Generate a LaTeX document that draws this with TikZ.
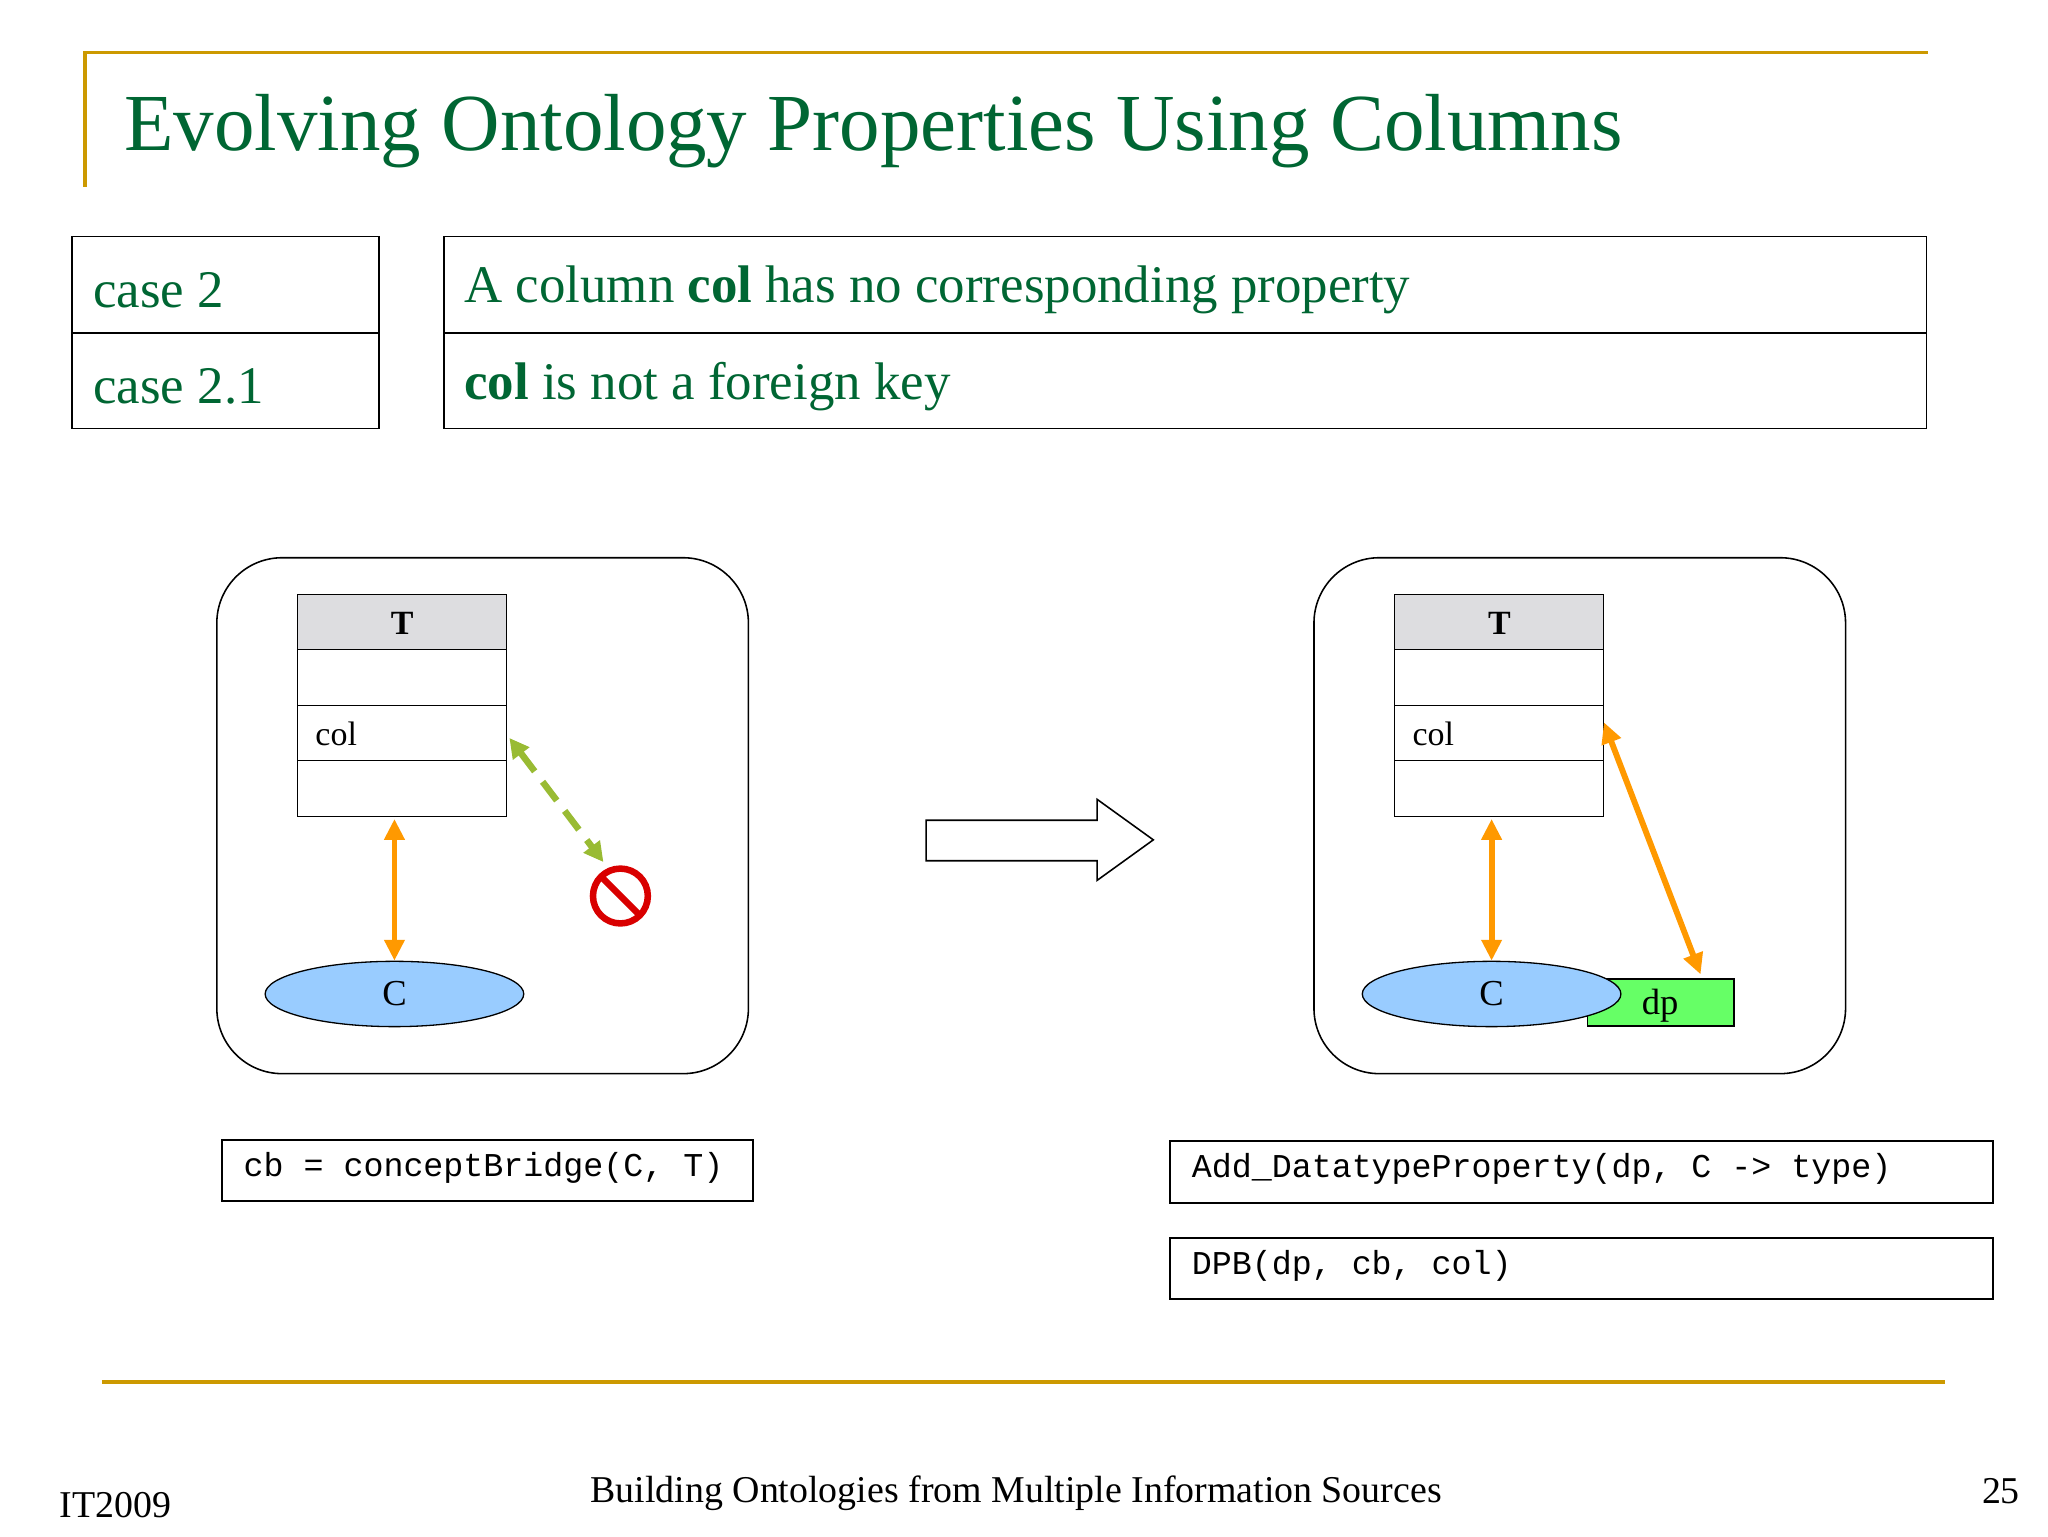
\documentclass[tikz,border=0pt]{standalone}
\usepackage{fontspec}
\setmainfont{Liberation Serif}
\setmonofont{Liberation Mono}
\usetikzlibrary{arrows.meta,shapes.geometric,calc}
\definecolor{ttl}{RGB}{0,102,51}
\definecolor{gold}{RGB}{204,153,0}
\definecolor{org}{RGB}{255,153,0}
\definecolor{lgr}{RGB}{153,187,51}
\definecolor{cblue}{RGB}{153,204,255}
\definecolor{dpg}{RGB}{102,255,102}
\definecolor{hdr}{RGB}{221,221,224}
\begin{document}
\begin{tikzpicture}[x=1pt,y=-1pt,
  gline/.style={gold,line width=2.5pt},
  casetxt/.style={font=\fontsize{40.5}{42}\selectfont,text=ttl,anchor=west},
  boxl/.style={draw,line width=1.2pt},
  panel/.style={draw,line width=1.2pt,rounded corners=50pt},
  cell/.style={draw,line width=0.8pt},
  oarrow/.style={org,line width=4.5pt,{Triangle[length=16pt,width=15pt]}-{Triangle[length=16pt,width=15pt]}},
  codebox/.style={draw,line width=1.5pt,minimum height=47pt,anchor=north west,inner sep=0pt},
  codetxt/.style={font=\ttfamily\fontsize{25.5}{27}\selectfont,anchor=west},
  foot/.style={font=\fontsize{29}{31}\selectfont}]
\useasboundingbox (0,0) rectangle (1568,1176);
\fill[white] (0,0) rectangle (1568,1176);
\draw[gline] (65,143) -- (65,40) -- (1476,40);
\draw[gline] (78,1058) -- (1489,1058);
\node[anchor=base west,text=ttl,font=\fontsize{62}{64}\selectfont,inner sep=0] (title) at (95,115) {Evolving Ontology Properties Using Columns};
% case boxes
\draw[boxl] (55,181) rectangle (290,328); \draw[boxl] (55,255) -- (290,255);
\draw[boxl] (340,181) rectangle (1475,328); \draw[boxl] (340,255) -- (1475,255);
\node[casetxt] (c2) at (68,222) {case 2};
\node[casetxt] (c21) at (68,296) {case 2.1};
\node[casetxt] (d1) at (352,222) {A column \textbf{col} has no corresponding property};
\node[casetxt] (d2) at (352,296) {\textbf{col} is not a foreign key};
% panels
\foreach \dx/\p in {0/L,840/R}{
  \begin{scope}[xshift=\dx]
  \draw[panel] (166,427) rectangle (573,822);
  \fill[hdr] (228,455) rectangle (388,497);
  \draw[cell] (228,455) rectangle (388,625);
  \draw[cell] (228,497)--(388,497) (228,540)--(388,540) (228,582)--(388,582);
  \node[font=\bfseries\fontsize{26}{28}\selectfont] (T\p) at (308,477) {T};
  \node[anchor=west,font=\fontsize{26}{28}\selectfont] (col\p) at (238,562) {col};
  \coordinate (tb\p) at (302,627);
  \end{scope}}
% left
\node[ellipse,draw,line width=1pt,fill=cblue,minimum width=198pt,minimum height=50pt,font=\fontsize{28}{30}\selectfont] (CL) at (302,761) {C};
\draw[oarrow] (tbL) -- (CL.north);
\coordinate (ns) at (475,686);
\coordinate (colLe) at (390,565);
\draw[lgr,line width=5pt,dash pattern=on 18pt off 10pt,{Triangle[length=15pt,width=15pt]}-{Triangle[length=15pt,width=15pt]}] (colLe) -- (462,660);
\fill[white] (ns) circle (22pt);
\draw[red!85!black,line width=5pt] (ns) circle (21pt);
\draw[red!85!black,line width=5pt] ($(ns)+(-14,-14)$) -- ($(ns)+(14,14)$);
% big arrow
\draw[line width=1.2pt,fill=white] (709,628) -- (840,628) -- (840,612) -- (883,643) -- (840,674) -- (840,659) -- (709,659) -- cycle;
% right
\node[draw,line width=1pt,fill=dpg,minimum width=112pt,minimum height=36pt,anchor=north west,inner sep=0] (dp) at (1215,749) {};
\node[ellipse,draw,line width=1pt,fill=cblue,minimum width=198pt,minimum height=50pt,font=\fontsize{28}{30}\selectfont] (CR) at (1142,761) {C};
\node[font=\fontsize{28}{30}\selectfont] (dpt) at (1271,770) {dp};
\draw[oarrow] (tbR) -- (CR.north);
\coordinate (colRe) at (1228,553);
\draw[oarrow] (colRe) -- (1302,746);
% code boxes
\node[codebox,minimum width=407pt] (b1) at (169,872) {};
\node[codetxt] at ([xshift=14pt,yshift=2pt]b1.west) {cb = conceptBridge(C, T)};
\node[codebox,minimum width=630pt] (b2) at (895,873) {};
\node[codetxt] at ([xshift=14pt,yshift=2pt]b2.west) {Add\_DatatypeProperty(dp, C -> type)};
\node[codebox,minimum width=630pt] (b3) at (895,947) {};
\node[codetxt] at ([xshift=14pt,yshift=2pt]b3.west) {DPB(dp, cb, col)};
% footer
\node[foot,anchor=west] (f1) at (42,1152) {IT2009};
\node[foot] (f2) at (778,1143) {Building Ontologies from Multiple Information Sources};
\node[foot,anchor=east] (f3) at (1550,1142) {25};
\end{tikzpicture}
\end{document}
